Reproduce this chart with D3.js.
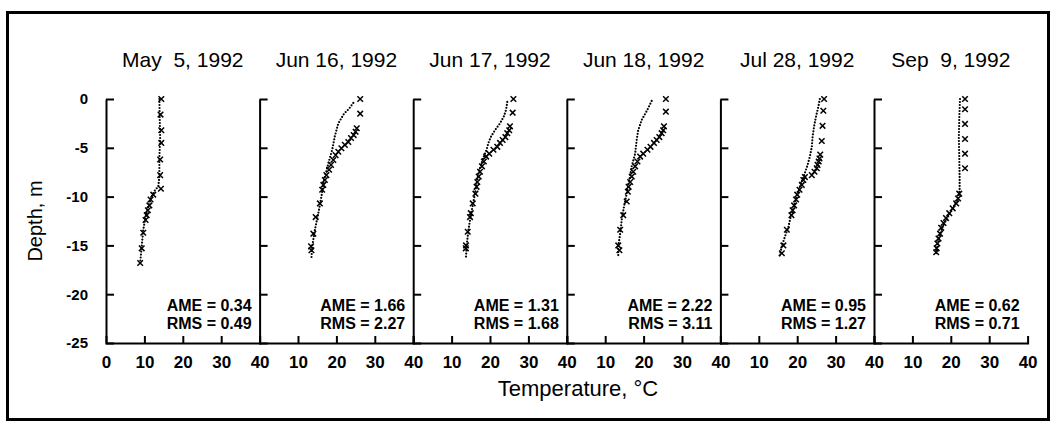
<!DOCTYPE html>
<html>
<head>
<meta charset="utf-8">
<script src="https://cdn.jsdelivr.net/npm/d3@7"></script>
<style>
	body { margin: 0; background: #fff; }
	#chart svg { display: block; font-family: 'Liberation Sans', Arial, sans-serif; }
	#chart text { fill: #000; }
</style>
</head>
<body>
<div id="chart"><svg width="1051" height="432"></svg></div>
<script>
// panel titles and fit statistics
var dates = ['May  5, 1992', 'Jun 16, 1992', 'Jun 17, 1992', 'Jun 18, 1992', 'Jul 28, 1992', 'Sep  9, 1992'];
var ame = [0.34, 1.66, 1.31, 2.22, 0.95, 0.62];
var rms = [0.49, 2.27, 1.68, 3.11, 1.27, 0.71];

// tick labels
var depthTicks = [0, -5, -10, -15, -20, -25];
var tempTicks = [0, 10, 20, 30, 40];

// profiles: [temperature, depth], dotted = simulated, x = measured
var simMay5 = [[13.9, 0], [14.0, -2], [14.1, -4], [13.9, -6], [13.9, -8], [13.6, -9.0], [12.8, -9.3], [11.9, -10.0],
	[11.0, -11.0], [10.3, -12.1], [9.7, -13.4], [9.3, -15.1], [8.9, -16.8]];
var obsMay5 = [[14.4, 0], [14.2, -1.6], [14.4, -3.2], [14.4, -4.5], [14.1, -6.2], [14.1, -7.8], [14.3, -9.2], [12.3, -9.8],
	[11.6, -10.3], [11.3, -10.9], [10.9, -11.4], [10.6, -11.9], [10.3, -12.4], [9.7, -13.7], [9.3, -15.3], [8.9, -16.8]];

var simJun16 = [[24.4, -0.4], [23.3, -1.0], [22.0, -1.5], [20.5, -2.5], [19.6, -3.8], [18.9, -5.2], [17.9, -6.6], [16.8, -8.3],
	[16.1, -10.0], [15.3, -11.7], [14.4, -13.4], [13.7, -15.1], [13.5, -16.3]];
var obsJun16 = [[26.2, 0], [26.2, -1.5], [25.3, -3.0], [25.0, -3.35], [24.5, -3.7], [23.8, -4.0], [23.1, -4.4], [22.2, -4.7],
	[21.3, -5.05], [20.5, -5.4], [19.8, -5.75], [19.2, -6.25], [18.6, -6.75], [18.1, -7.25], [17.4, -7.8], [17.0, -8.3],
	[16.6, -8.8], [16.3, -9.3], [15.7, -10.7], [14.6, -12.1], [14.0, -13.8], [13.4, -15.1], [13.5, -15.5]];

var simJun17 = [[24.5, -0.3], [24.2, -1.1], [23.6, -1.8], [22.6, -2.5], [21.3, -3.2], [20.2, -3.9], [19.6, -4.5], [19.1, -5.2],
	[18.1, -6.2], [17.0, -7.6], [16.4, -9.0], [15.8, -10.3], [15.1, -11.7], [14.4, -13.4], [13.9, -15.1], [13.75, -16.2]];
var obsJun17 = [[26.1, 0], [25.9, -1.4], [25.2, -2.8], [25.0, -3.2], [24.5, -3.5], [24.0, -3.9], [23.3, -4.2], [22.6, -4.5],
	[21.9, -4.9], [20.9, -5.2], [19.8, -5.6], [19.0, -5.9], [18.4, -6.4], [17.9, -6.9], [17.4, -7.45], [17.05, -7.95],
	[16.7, -8.5], [16.5, -9.0], [16.2, -9.7], [15.5, -10.7], [15.0, -11.7], [14.8, -12.1], [14.2, -13.6], [13.75, -15.0], [13.7, -15.3]];

var simJun18 = [[22.1, -0.2], [21.0, -1.1], [19.5, -2.15], [18.6, -3.2], [18.2, -4.2], [17.8, -5.6], [16.9, -6.9], [16.3, -8.3],
	[15.6, -9.7], [14.9, -11.0], [14.3, -12.4], [13.9, -13.8], [13.4, -15.1], [13.4, -16.0]];
var obsJun18 = [[25.8, 0], [25.8, -1.3], [25.3, -2.8], [25.1, -3.2], [24.7, -3.5], [24.1, -3.9], [23.4, -4.2], [22.7, -4.5],
	[21.8, -4.9], [21.0, -5.2], [19.9, -5.6], [19.1, -5.9], [18.4, -6.4], [17.8, -6.9], [17.3, -7.45], [16.9, -7.95],
	[16.5, -8.5], [16.1, -9.0], [15.9, -9.5], [15.6, -10.5], [14.7, -11.9], [13.9, -13.4], [13.4, -15.0], [13.7, -15.5]];

var simJul28 = [[25.9, 0], [25.5, -0.8], [24.9, -1.8], [24.4, -2.8], [24.0, -3.9], [23.8, -4.9], [23.3, -5.9], [22.6, -6.9],
	[21.6, -8.0], [20.7, -9.0], [19.9, -10.0], [19.2, -11.0], [18.3, -12.1], [17.7, -13.1], [16.8, -14.1], [16.0, -15.1], [15.35, -16.2]];
var obsJul28 = [[27.0, 0], [26.8, -1.2], [26.6, -2.75], [26.4, -4.3], [26.0, -5.7], [25.8, -6.1], [25.6, -6.4], [25.3, -6.75],
	[25.1, -7.1], [24.5, -7.45], [23.8, -7.8], [22.0, -8.0], [21.6, -8.3], [21.2, -8.8], [20.6, -9.3], [20.0, -9.8],
	[19.7, -10.3], [19.2, -10.9], [18.8, -11.4], [18.5, -11.9], [17.3, -13.4], [16.4, -15.0], [16.0, -15.8]];

var simSep9 = [[22.4, 0], [22.2, -2], [22.1, -4], [22.2, -6], [22.3, -8], [22.3, -9.3], [22.2, -9.7], [21.7, -10.3],
	[20.8, -11.0], [19.8, -11.7], [18.75, -12.4], [17.9, -13.1], [17.0, -14.1], [16.5, -15.1], [16.2, -15.8]];
var obsSep9 = [[23.7, 0], [23.7, -1.05], [23.7, -2.55], [23.7, -4.1], [23.7, -5.6], [23.7, -7.1], [22.2, -9.7], [21.9, -10.2],
	[21.4, -10.7], [20.5, -11.2], [19.6, -11.7], [18.75, -12.2], [18.1, -12.7], [17.5, -13.2], [17.2, -13.8], [16.8, -14.3],
	[16.5, -14.8], [16.3, -15.3], [16.2, -15.7]];

var simulated = [simMay5, simJun16, simJun17, simJun18, simJul28, simSep9];
var measured = [obsMay5, obsJun16, obsJun17, obsJun18, obsJul28, obsSep9];

const Chart = {
	left: 106,
	panelWidth: 153.6,
	top: 99,
	bottom: 343,

	draw: function() {
		const self = this;
		var svg = d3.select('#chart > svg');

		// outer frame
		svg.append('rect')
			.attr('x', 7.5).attr('y', 12.5)
			.attr('width', 1041).attr('height', 407)
			.attr('fill', 'none')
			.attr('stroke', '#000')
			.attr('stroke-width', 3);

		var yScale = d3.scaleLinear()
			.domain([0, -25])
			.range([self.top, self.bottom]);

		// y labels, first panel only
		svg.append('g')
			.attr('class', 'y labels')
			.attr('transform', 'translate(' + self.left + ',0)')
			.call(d3.axisLeft(yScale).tickValues(depthTicks).tickSize(0).tickPadding(18)
				.tickFormat(function(d) { return String(d) }))
			.call(function(a) { a.select('.domain').remove() })
			.selectAll('text')
			.style('font-size', '15px')
			.style('font-weight', 'bold');

		svg.append('text')
			.attr('transform', 'translate(42,' + ((self.top + self.bottom) / 2) + ') rotate(-90)')
			.attr('text-anchor', 'middle')
			.style('font-size', '20px')
			.text('Depth, m');

		svg.append('text')
			.attr('x', 578)
			.attr('y', 396)
			.attr('text-anchor', 'middle')
			.style('font-size', '22px')
			.text('Temperature, °C');

		var line = d3.line();
		var marker = d3.symbol().type(d3.symbolX).size(22);

		dates.forEach(function(date, i) {
			var x0 = self.left + i * self.panelWidth;
			var xScale = d3.scaleLinear()
				.domain([0, 40])
				.range([x0, x0 + self.panelWidth]);
			var g = svg.append('g').attr('class', 'panel');

			// y axis, ticks pointing inward
			g.append('g')
				.attr('transform', 'translate(' + xScale(0) + ',0)')
				.call(d3.axisRight(yScale).tickValues(depthTicks).tickSize(8).tickSizeOuter(0).tickFormat(''));

			// x axis, ticks pointing up
			g.append('g')
				.attr('transform', 'translate(0,' + yScale(-25) + ')')
				.call(d3.axisTop(xScale).tickValues([10, 20, 30]).tickSize(7).tickSizeOuter(7).tickFormat(''));

			g.selectAll('.domain, .tick line')
				.attr('stroke', '#000')
				.attr('stroke-width', 2);

			// x labels
			g.append('g')
				.attr('transform', 'translate(0,' + yScale(-25) + ')')
				.call(d3.axisBottom(xScale).tickValues(i === 0 ? tempTicks : tempTicks.slice(1)).tickSize(0).tickPadding(13))
				.call(function(a) { a.select('.domain').remove() })
				.selectAll('text')
				.style('font-size', '17px')
				.style('font-weight', 'bold');

			g.append('text')
				.attr('x', (xScale(0) + xScale(40)) / 2)
				.attr('y', 67)
				.attr('text-anchor', 'middle')
				.style('font-size', '21px')
				.style('white-space', 'pre')
				.text(date);

			// fit statistics, two tight lines
			g.append('text')
				.attr('x', xScale(40) - 8)
				.attr('y', 311)
				.attr('text-anchor', 'end')
				.style('font-size', '16px')
				.style('font-weight', 'bold')
				.text('AME = ' + ame[i].toFixed(2));
			g.append('text')
				.attr('x', xScale(40) - 8)
				.attr('y', 329)
				.attr('text-anchor', 'end')
				.style('font-size', '16px')
				.style('font-weight', 'bold')
				.text('RMS = ' + rms[i].toFixed(2));

			line.x(function(d) { return xScale(d[0]) })
				.y(function(d) { return yScale(d[1]) });

			// dotted profile
			g.append('path')
				.datum(simulated[i])
				.attr('d', line)
				.attr('fill', 'none')
				.attr('stroke', '#000')
				.attr('stroke-width', 2.2)
				.attr('stroke-linecap', 'round')
				.attr('stroke-dasharray', '0 3');

			// x markers
			g.selectAll('.obs')
				.data(measured[i])
				.enter()
				.append('path')
				.attr('class', 'obs')
				.attr('transform', function(d) { return 'translate(' + xScale(d[0]) + ',' + yScale(d[1]) + ')' })
				.attr('d', marker)
				.attr('fill', 'none')
				.attr('stroke', '#000')
				.attr('stroke-width', 1.5);
		});
	}
};

Chart.draw();
</script>
</body>
</html>
